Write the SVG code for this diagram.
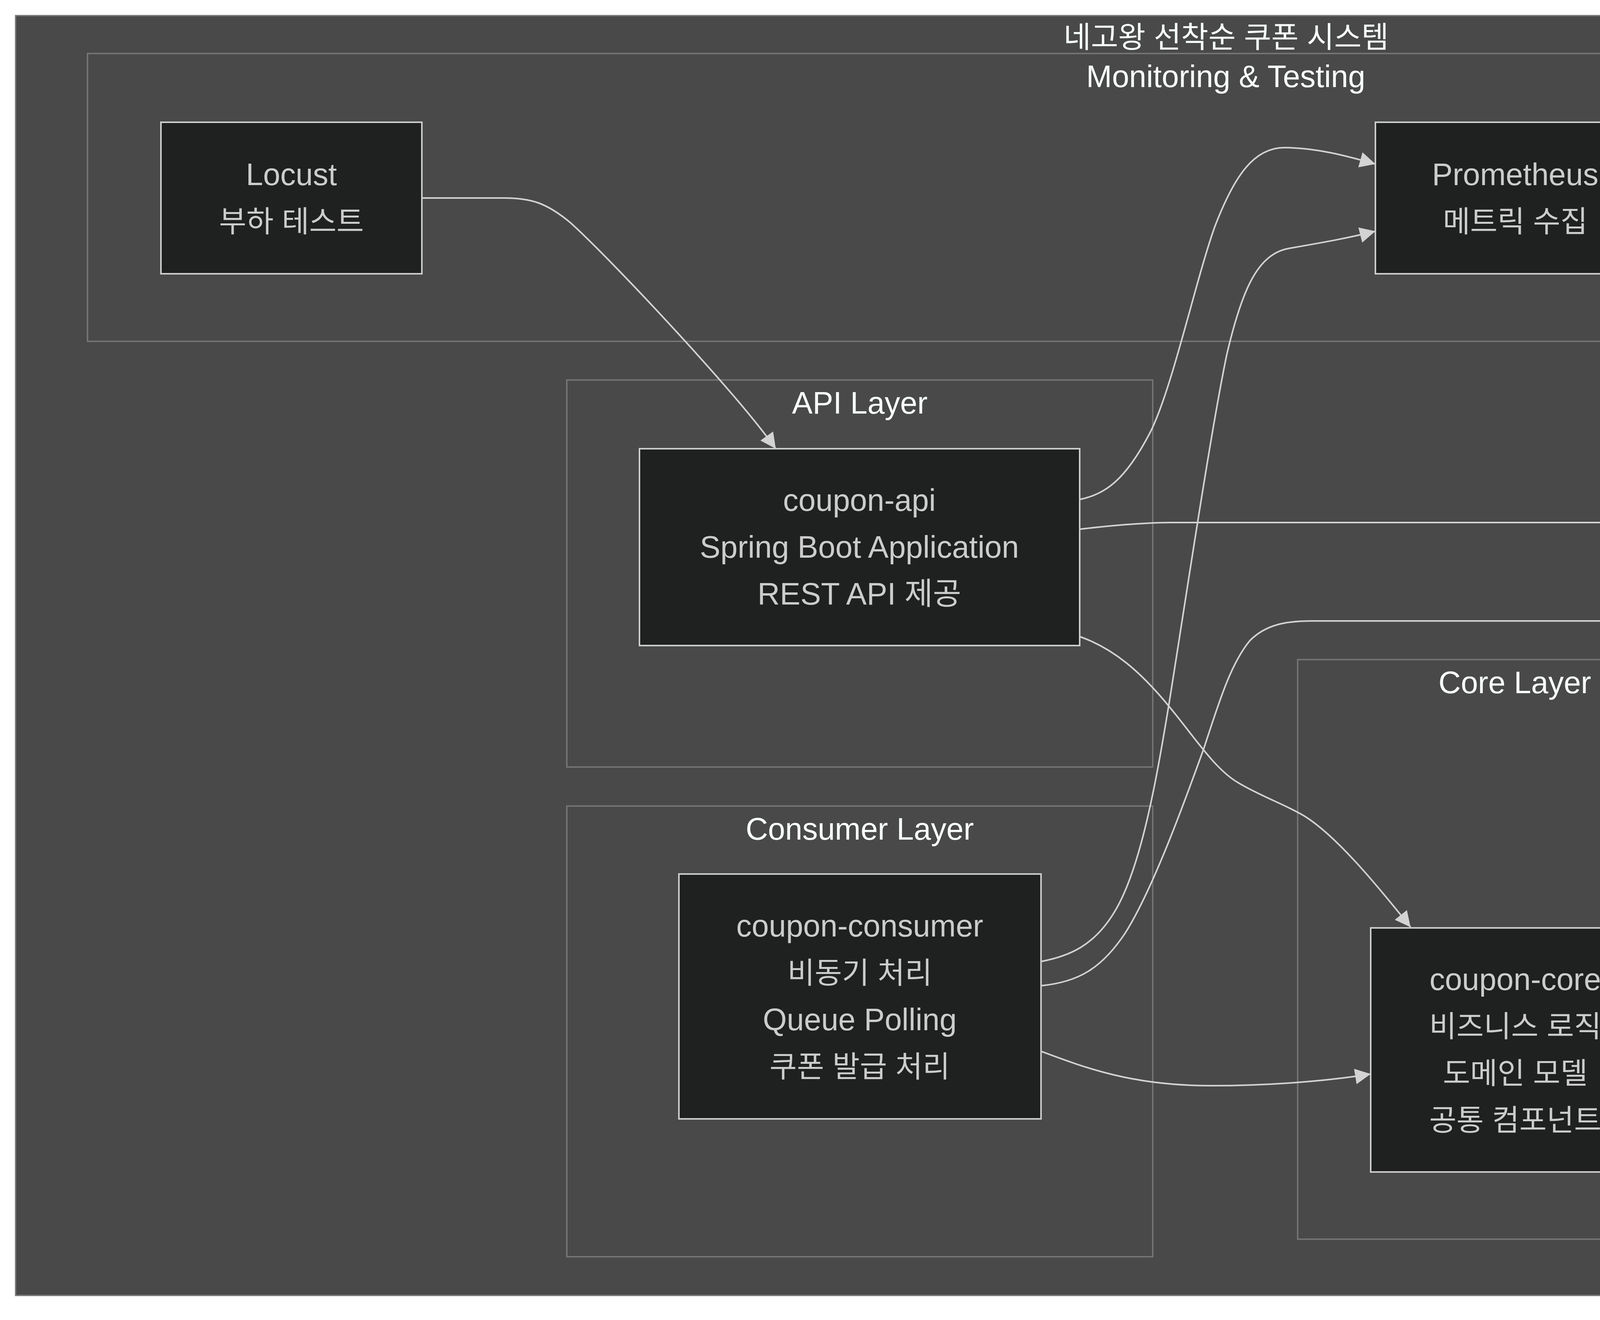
<svg xmlns="http://www.w3.org/2000/svg" width="6320" height="3380" viewBox="0 0 6320 3380">
<defs>
<style>
.cl{fill:#484948;stroke:#767777;stroke-width:3.5}
.nd{fill:#1f2020;stroke:#cccccc;stroke-width:4}
.ed{fill:none;stroke:#d3d3d3;stroke-width:4}
text{font-family:"Liberation Sans","Noto Sans CJK KR",sans-serif;font-size:79px;text-anchor:middle}
.ko{font-size:76px}
.nt{fill:#cccccc}
.ct{fill:#f9fffe}
</style>
<marker id="arr" viewBox="0 0 10 10" refX="10" refY="5" markerUnits="userSpaceOnUse" markerWidth="40" markerHeight="40" orient="auto">
<path d="M0,0 L10,5 L0,10 z" fill="#d3d3d3"/>
</marker>
</defs>
<rect x="0" y="0" width="6320" height="3380" fill="#ffffff"/>
<g id="clusters">
<g id="cluster-system"><rect class="cl" x="40" y="40" width="6198" height="3277"/><text class="ct ko" x="3139" y="122">네고왕 선착순 쿠폰 시스템</text></g>
<g id="cluster-monitoring"><rect class="cl" x="224" y="137" width="5829" height="737"/><text class="ct" x="3138" y="223">Monitoring &amp; Testing</text></g>
<g id="cluster-api"><rect class="cl" x="1451" y="973" width="1500" height="991"/><text class="ct" x="2201" y="1059">API Layer</text></g>
<g id="cluster-consumer"><rect class="cl" x="1451" y="2064" width="1500" height="1154"/><text class="ct" x="2201" y="2150">Consumer Layer</text></g>
<g id="cluster-core"><rect class="cl" x="3322" y="1689" width="1113" height="1484"/><text class="ct" x="3878" y="1775">Core Layer</text></g>
<g id="cluster-external"><rect class="cl" x="4807" y="988" width="1248" height="2106"/><text class="ct" x="5431" y="1074">External Systems</text></g>
</g>
<g id="connectors">
<path class="ed" marker-end="url(#arr)" d="M1080,507 L1290,507 C1360,507 1400,520 1460,570 C1560,660 1880,1000 1986,1149"/>
<path class="ed" marker-end="url(#arr)" d="M4237,507 L4993,507"/>
<path class="ed" marker-end="url(#arr)" d="M2764,1279 C2830,1265 2880,1230 2943,1110 C3000,1000 3060,720 3110,580 C3160,450 3210,378 3288,378 C3370,378 3450,400 3521,420"/>
<path class="ed" marker-end="url(#arr)" d="M2665,2462 C2740,2448 2800,2420 2850,2340 C2920,2230 2960,2000 2993,1800 C3030,1570 3100,1100 3141,906 C3180,740 3220,650 3300,636 C3380,622 3450,610 3521,592"/>
<path class="ed" marker-end="url(#arr)" d="M2764,1630 C2850,1660 2920,1720 2993,1809 C3060,1890 3110,1970 3171,2005 C3230,2040 3290,2060 3340,2090 C3420,2140 3520,2260 3611,2374"/>
<path class="ed" marker-end="url(#arr)" d="M2764,1355 C2850,1345 2930,1338 3000,1338 L4600,1338 C4700,1338 4760,1350 4830,1372 C4950,1410 5130,1510 5237,1581"/>
<path class="ed" marker-end="url(#arr)" d="M2665,2524 C2760,2515 2820,2480 2880,2390 C2950,2280 3030,2060 3082,1916 C3120,1800 3150,1700 3200,1640 C3240,1600 3290,1590 3360,1590 L4650,1590 C4800,1590 5100,1630 5237,1659"/>
<path class="ed" marker-end="url(#arr)" d="M2665,2692 C2780,2735 2900,2780 3100,2780 C3250,2780 3400,2768 3509,2750"/>
<path class="ed" marker-end="url(#arr)" d="M4145,2374 C4230,2280 4330,2160 4433,2079 C4490,2040 4540,2031 4627,2031 C4720,2031 4800,2005 4900,1971 C5010,1930 5150,1845 5237,1800"/>
<path class="ed" marker-end="url(#arr)" d="M4249,2688 L5209,2688"/>
</g>
<g id="node-locust"><rect class="nd" x="412" y="313" width="668" height="388"/><text class="nt" x="746" y="474">Locust</text><text class="nt ko" x="746" y="594">부하 테스트</text></g>
<g id="node-prometheus"><rect class="nd" x="3521" y="313" width="716" height="388"/><text class="nt" x="3879" y="474">Prometheus</text><text class="nt ko" x="3879" y="594">메트릭 수집</text></g>
<g id="node-grafana"><rect class="nd" x="4993" y="313" width="873" height="388"/><text class="nt" x="5429" y="474">Grafana</text><text class="nt ko" x="5429" y="594">모니터링 대시보드</text></g>
<g id="node-coupon-api"><rect class="nd" x="1637" y="1149" width="1127" height="504"/><text class="nt" x="2200" y="1308">coupon-api</text><text class="nt" x="2200" y="1428">Spring Boot Application</text><text class="nt" x="2200" y="1548">REST API 제공</text></g>
<g id="node-coupon-consumer"><rect class="nd" x="1738" y="2238" width="927" height="627"/><text class="nt" x="2201" y="2398">coupon-consumer</text><text class="nt ko" x="2201" y="2518">비동기 처리</text><text class="nt" x="2201" y="2638">Queue Polling</text><text class="nt ko" x="2201" y="2758">쿠폰 발급 처리</text></g>
<g id="node-coupon-core"><rect class="nd" x="3509" y="2376" width="740" height="625"/><text class="nt" x="3879" y="2535">coupon-core</text><text class="nt ko" x="3879" y="2655">비즈니스 로직</text><text class="nt ko" x="3879" y="2775">도메인 모델</text><text class="nt ko" x="3879" y="2895">공통 컴포넌트</text></g>
<g id="node-redis"><path class="nd" d="M5237,1509 a193,47 0 0 0 386,0 a193,47 0 0 0 -386,0 l0,359 a193,47 0 0 0 386,0 l0,-359"/><text class="nt" x="5430" y="1708">Redis</text><text class="nt" x="5430" y="1828">캐시 &amp; 큐</text></g>
<g id="node-mysql"><path class="nd" d="M5209,2505 a222.5,51 0 0 0 445,0 a222.5,51 0 0 0 -445,0 l0,365 a222.5,51 0 0 0 445,0 l0,-365"/><text class="nt" x="5431" y="2705">MySQL</text><text class="nt ko" x="5431" y="2825">영구 저장소</text></g>
</svg>
